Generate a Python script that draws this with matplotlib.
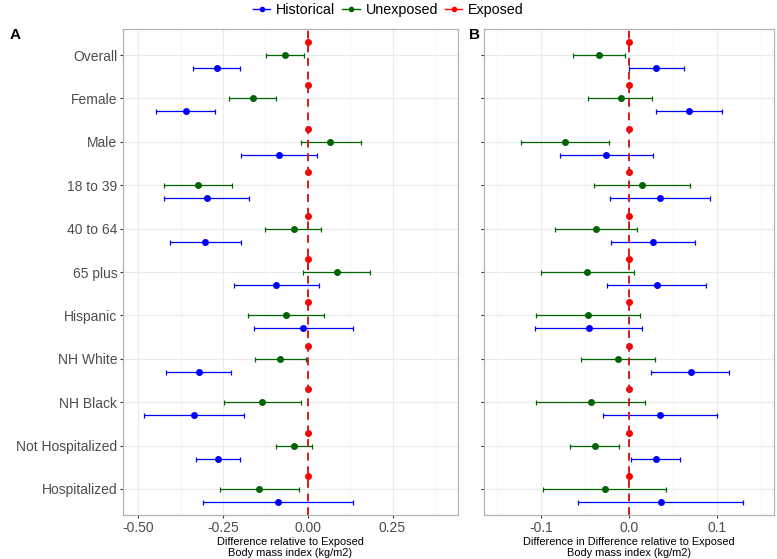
import matplotlib.pyplot as plt
import numpy as np
from matplotlib.lines import Line2D

plt.rcParams['font.family'] = ['Liberation Sans', 'DejaVu Sans']

categories = ['Overall', 'Female', 'Male', '18 to 39', '40 to 64', '65 plus',
              'Hispanic', 'NH White', 'NH Black', 'Not Hospitalized', 'Hospitalized']

# panel A: difference relative to exposed
a_unexp = [-0.068, -0.163, 0.067, -0.323, -0.042, 0.085, -0.064, -0.082, -0.134, -0.042, -0.143]
a_unexp_lo = [-0.123, -0.232, -0.020, -0.423, -0.125, -0.015, -0.175, -0.156, -0.248, -0.095, -0.258]
a_unexp_hi = [-0.012, -0.095, 0.156, -0.224, 0.040, 0.184, 0.047, -0.006, -0.021, 0.011, -0.027]
a_hist = [-0.268, -0.360, -0.085, -0.298, -0.302, -0.094, -0.014, -0.322, -0.337, -0.265, -0.089]
a_hist_lo = [-0.338, -0.449, -0.197, -0.425, -0.407, -0.219, -0.158, -0.417, -0.484, -0.331, -0.309]
a_hist_hi = [-0.199, -0.273, 0.028, -0.172, -0.196, 0.032, 0.133, -0.225, -0.188, -0.200, 0.133]

# panel B: difference in difference relative to exposed
b_unexp = [-0.035, -0.010, -0.073, 0.014, -0.038, -0.048, -0.047, -0.013, -0.044, -0.039, -0.028]
b_unexp_lo = [-0.064, -0.047, -0.123, -0.040, -0.084, -0.101, -0.106, -0.055, -0.106, -0.067, -0.098]
b_unexp_hi = [-0.005, 0.026, -0.023, 0.069, 0.009, 0.005, 0.012, 0.029, 0.018, -0.012, 0.042]
b_hist = [0.030, 0.068, -0.026, 0.035, 0.027, 0.031, -0.046, 0.070, 0.035, 0.030, 0.036]
b_hist_lo = [0.000, 0.030, -0.079, -0.022, -0.021, -0.025, -0.107, 0.025, -0.030, 0.002, -0.058]
b_hist_hi = [0.062, 0.106, 0.027, 0.092, 0.075, 0.087, 0.015, 0.114, 0.100, 0.058, 0.129]

exposed = [0.0] * len(categories)

c_hist = '#0000FF'
c_unexp = '#006400'
c_exp = '#FF0000'

n = len(categories)
ypos = np.arange(n, 0, -1)  # Overall at top

fig = plt.figure(figsize=(7.77, 5.59), dpi=100)
axA = fig.add_axes([0.1583, 0.0787, 0.4311, 0.8694])
axB = fig.add_axes([0.6233, 0.0787, 0.3732, 0.8694])


def draw(ax, unexp, ulo, uhi, hist, hlo, hhi):
    for vals, lo, hi, col, off in [(hist, hlo, hhi, c_hist, -0.3),
                                   (unexp, ulo, uhi, c_unexp, 0.0),
                                   (exposed, exposed, exposed, c_exp, 0.3)]:
        v = np.array(vals)
        err = [v - np.array(lo), np.array(hi) - v]
        ax.errorbar(v, ypos + off, xerr=err, fmt='o', color=col, ms=4,
                    ecolor=col, elinewidth=0.9, capsize=1.8, capthick=0.9,
                    zorder=3)
    ax.axvline(0, color='#D01F1F', ls=(0, (4, 3)), lw=1.4, zorder=4)
    ax.set_ylim(0.4, n + 0.6)
    ax.set_yticks(ypos)
    ax.grid(True, which='major', color='#EBEBEB', lw=0.8)
    ax.grid(True, which='minor', axis='x', color='#F4F4F4', lw=0.6)
    ax.set_axisbelow(True)
    for s in ax.spines.values():
        s.set_color('#B3B3B3')
        s.set_linewidth(0.9)
    ax.tick_params(axis='both', which='major', length=2.5, color='#333333',
                   labelcolor='#4D4D4D', labelsize=10, pad=1.5)
    ax.tick_params(axis='x', which='minor', length=0)


draw(axA, a_unexp, a_unexp_lo, a_unexp_hi, a_hist, a_hist_lo, a_hist_hi)
axA.set_xlim(-0.545, 0.443)
axA.set_xticks([-0.5, -0.25, 0.0, 0.25])
axA.set_xticklabels(['-0.50', '-0.25', '0.00', '0.25'])
axA.set_xticks([-0.375, -0.125, 0.125, 0.375], minor=True)
axA.set_yticklabels(categories)
axA.set_xlabel('Difference relative to Exposed\nBody mass index (kg/m2)',
               fontsize=7.9, labelpad=2, linespacing=1.05)

draw(axB, b_unexp, b_unexp_lo, b_unexp_hi, b_hist, b_hist_lo, b_hist_hi)
axB.set_xlim(-0.165, 0.165)
axB.set_xticks([-0.1, 0.0, 0.1])
axB.set_xticklabels(['-0.1', '0.0', '0.1'])
axB.set_xticks([-0.15, -0.05, 0.05, 0.15], minor=True)
axB.set_yticklabels([])
axB.set_xlabel('Difference in Difference relative to Exposed\nBody mass index (kg/m2)',
               fontsize=7.9, labelpad=2, linespacing=1.05)

fig.text(0.013, 0.93, 'A', fontsize=11, fontweight='bold')
fig.text(0.603, 0.93, 'B', fontsize=11, fontweight='bold')

handles = [Line2D([], [], color=c, marker='o', ms=3, lw=1) for c in (c_hist, c_unexp, c_exp)]
fig.legend(handles, ['Historical', 'Unexposed', 'Exposed'], loc='upper center',
           bbox_to_anchor=(0.5, 1.018), ncol=3, frameon=False, fontsize=10.3,
           handlelength=1.2, handletextpad=0.4, columnspacing=0.5)

plt.savefig('out.png', dpi=100)
